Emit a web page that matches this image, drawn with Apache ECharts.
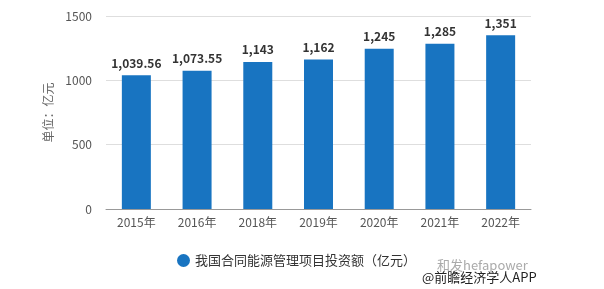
<!DOCTYPE html>
<html>
<head>
<meta charset="utf-8">
<script src="https://cdn.jsdelivr.net/npm/echarts@6/dist/echarts.min.js"></script>
<style>
  html, body { margin: 0; padding: 0; background: #fff; }
  #chart { width: 604px; height: 289px; }
</style>
</head>
<body>
<div id="chart"></div>
<script>
var years = ['2015年', '2016年', '2018年', '2019年', '2020年', '2021年', '2022年'];
var values = [1039.56, 1073.55, 1143, 1162, 1245, 1285, 1351];
var yTicks = [0, 500, 1000, 1500];
var seriesName = '我国合同能源管理项目投资额（亿元）';

var font = '"Microsoft YaHei", "Noto Sans CJK SC", sans-serif';
var myChart = echarts.init(document.getElementById('chart'));

var option = {
  animation: false,
  textStyle: { fontFamily: font },
  grid: { left: 106, right: 73, top: 16, bottom: 80 },
  legend: {
    data: [seriesName],
    left: 172,
    top: 249,
    icon: 'circle',
    itemWidth: 13,
    itemHeight: 13,
    itemGap: 6,
    textStyle: { color: '#333', fontSize: 13, fontFamily: font }
  },
  xAxis: {
    type: 'category',
    data: years,
    axisLine: { lineStyle: { color: '#999' } },
    axisTick: { alignWithLabel: true, length: 5, lineStyle: { color: '#999' } },
    axisLabel: { color: '#555', fontSize: 12, margin: 7 }
  },
  yAxis: {
    type: 'value',
    min: yTicks[0],
    max: yTicks[yTicks.length - 1],
    interval: 500,
    name: '单位：亿元',
    nameLocation: 'middle',
    nameGap: 52,
    nameTextStyle: { color: '#666', fontSize: 12 },
    axisLine: { show: false },
    axisTick: { show: false },
    axisLabel: {
      color: '#555', fontSize: 12, margin: 14,
      formatter: function (v) { return String(v); }
    },
    splitLine: { lineStyle: { color: '#dedede' } }
  },
  series: [{
    name: seriesName,
    type: 'bar',
    data: values,
    barWidth: 29,
    itemStyle: { color: '#1874c1' },
    label: {
      show: true,
      position: 'top',
      distance: 6,
      color: '#333',
      fontSize: 12,
      fontWeight: 'bold',
      formatter: function (p) {
        return p.value.toLocaleString('en-US', { maximumFractionDigits: 2 });
      }
    }
  }],
  graphic: [
    {
      type: 'text', left: 437, top: 259,
      style: { text: '和发hefapower', fill: '#aaa', font: '13px ' + font }
    },
    {
      type: 'text', left: 422, top: 271,
      style: { text: '@前瞻经济学人APP', fill: '#222', font: '13px ' + font }
    }
  ]
};

myChart.setOption(option);
</script>
</body>
</html>
